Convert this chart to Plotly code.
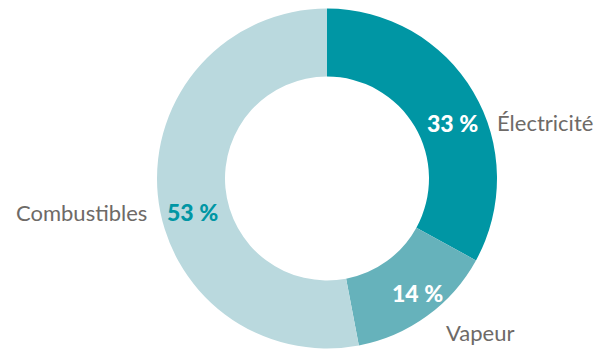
import plotly.graph_objects as go

categories = ["Électricité", "Vapeur", "Combustibles"]
values = [33, 14, 53]
colors = ["#0096A4", "#66B2BB", "#BAD9DE"]
pct_colors = ["#FFFFFF", "#FFFFFF", "#0096A4"]

# label anchors (pixel positions in the 602x349 canvas)
pct_pos = [(452, 123), (417, 293), (192, 212)]
name_pos = [(545, 123), (480, 332), (81, 212)]

W, H = 602, 349

fig = go.Figure(go.Pie(
    labels=categories,
    values=values,
    marker=dict(colors=colors, line=dict(width=0)),
    hole=0.6,
    sort=False,
    direction="clockwise",
    rotation=0,
    textinfo="none",
    hoverinfo="label+percent",
    domain=dict(x=[157 / W, 497 / W], y=[0.5 / H, 340.5 / H]),
    showlegend=False,
))

for cat, v, pc, (px, py), (nx, ny) in zip(categories, values, pct_colors, pct_pos, name_pos):
    fig.add_annotation(x=px / W, y=1 - py / H, xref="paper", yref="paper",
                       text=f"{v} %", showarrow=False,
                       font=dict(family="Lato", size=23, color=pc, weight=900),
                       xanchor="center", yanchor="middle")
    fig.add_annotation(x=nx / W, y=1 - ny / H, xref="paper", yref="paper",
                       text=cat, showarrow=False,
                       font=dict(family="Lato", size=22, color="#6E6A67"),
                       xanchor="center", yanchor="middle")

fig.update_layout(
    width=W, height=H,
    margin=dict(l=0, r=0, t=0, b=0),
    paper_bgcolor="white",
    plot_bgcolor="white",
)

fig.write_html("out.html")
